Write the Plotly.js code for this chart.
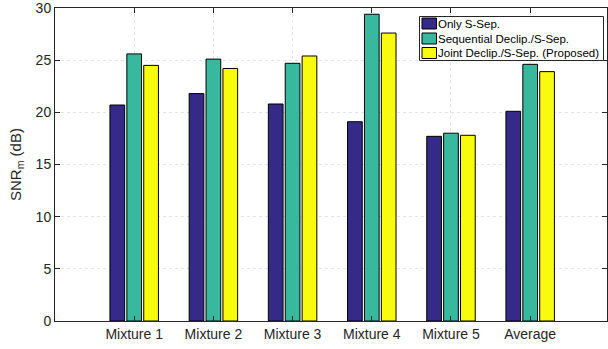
<!DOCTYPE html>
<html>
<head>
<meta charset="utf-8">
<script src="https://cdn.plot.ly/plotly-3.0.1.min.js"></script>
<style>
  html, body { margin: 0; padding: 0; background: #fff; }
  #chart { width: 608px; height: 349px; }
</style>
</head>
<body>
<div id="chart"></div>
<script>
// Mixtures on the x axis, one bar per method
const categories = ['Mixture 1', 'Mixture 2', 'Mixture 3', 'Mixture 4', 'Mixture 5', 'Average'];

const seriesNames = [
  'Only S-Sep.',
  'Sequential Declip./S-Sep.',
  'Joint Declip./S-Sep. (Proposed)'
];

// SNR_m in dB
const onlySSep       = [20.7, 21.8, 20.8, 19.1, 17.7, 20.1];
const sequentialSSep = [25.6, 25.1, 24.7, 29.4, 18.0, 24.6];
const jointSSep      = [24.5, 24.2, 25.4, 27.6, 17.8, 23.9];

const yTicks = [0, 5, 10, 15, 20, 25, 30];

const seriesValues = [onlySSep, sequentialSSep, jointSSep];
const seriesColors = ['#352a87', '#38b99e', '#f9fb0e'];

const FONT = 'Liberation Sans, Arial, sans-serif';
const W = 608, H = 349;
const M = { l: 55, r: 1, t: 8, b: 28 };
const plotW = W - M.l - M.r;
const plotH = H - M.t - M.b;

// pixel -> paper coordinates helpers for the compact boxed legend
const px = v => (v - M.l) / plotW;
const py = v => (H - M.b - v) / plotH;

const traces = seriesValues.map((vals, i) => ({
  type: 'bar',
  name: seriesNames[i],
  x: categories,
  y: vals,
  marker: { color: seriesColors[i], line: { color: '#000000', width: 1 } },
  hoverinfo: 'skip'
}));

// boxed legend in the upper right corner
const legendBox = { x0: 419.5, x1: 603.5, y0: 16.5, y1: 60.5 };
const rowTop = [18, 33, 47.5];
const swatchH = 11;
const shapes = [{
  type: 'rect', xref: 'paper', yref: 'paper',
  x0: px(legendBox.x0), x1: px(legendBox.x1),
  y0: py(legendBox.y1), y1: py(legendBox.y0),
  fillcolor: '#ffffff', line: { color: '#262626', width: 1 }, layer: 'above'
}];
const annotations = [];
seriesNames.forEach((name, i) => {
  shapes.push({
    type: 'rect', xref: 'paper', yref: 'paper',
    x0: px(422), x1: px(436.5),
    y0: py(rowTop[i] + swatchH), y1: py(rowTop[i]),
    fillcolor: seriesColors[i], line: { color: '#000000', width: 1 }, layer: 'above'
  });
  annotations.push({
    xref: 'paper', yref: 'paper',
    x: px(436), y: py(rowTop[i] + swatchH / 2),
    xanchor: 'left', yanchor: 'middle',
    text: name, showarrow: false,
    font: { family: FONT, size: 11.5, color: '#000000' }
  });
});

const axisCommon = {
  showline: true,
  linecolor: '#262626',
  linewidth: 1,
  mirror: 'ticks',
  ticks: 'inside',
  ticklen: 5,
  tickcolor: '#262626',
  tickwidth: 1,
  showgrid: true,
  gridcolor: '#e4e4e4',
  griddash: 'dot',
  gridwidth: 1,
  zeroline: false,
  layer: 'above traces',
  ticklabeloverflow: 'allow',
  tickfont: { family: FONT, size: 14, color: '#262626' }
};

const layout = {
  width: W,
  height: H,
  margin: M,
  paper_bgcolor: '#ffffff',
  plot_bgcolor: '#ffffff',
  barmode: 'group',
  bargap: 0.36,
  bargroupgap: 0.13,
  showlegend: false,
  shapes: shapes,
  annotations: annotations,
  xaxis: Object.assign({}, axisCommon, {
    type: 'category',
    range: [-1, 5.97]
  }),
  yaxis: Object.assign({}, axisCommon, {
    range: [0, 30],
    tickvals: yTicks,
    title: {
      text: 'SNR<sub>m</sub> (dB)',
      font: { family: FONT, size: 15, color: '#262626' },
      standoff: 10
    }
  })
};

Plotly.newPlot('chart', traces, layout, { displayModeBar: false, staticPlot: true });
</script>
</body>
</html>
